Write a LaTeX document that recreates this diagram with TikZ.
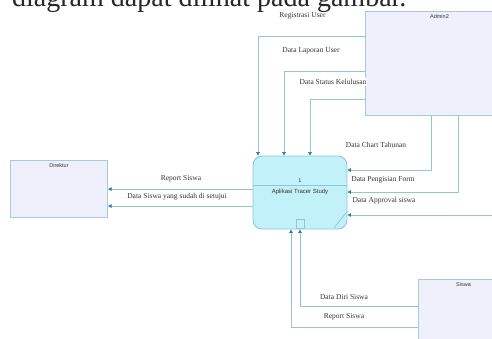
\documentclass[tikz,border=0pt]{standalone}
\usepackage{fontspec}
\setmainfont{Liberation Serif}
\newfontfamily\boxfont{Liberation Sans}
\usetikzlibrary{arrows.meta,calc}
\definecolor{entfill}{HTML}{EFF0FB}
\definecolor{entline}{HTML}{A6CAD6}
\definecolor{procfill}{HTML}{C2F1F9}
\definecolor{procline}{HTML}{8EC8D6}
\definecolor{flowline}{HTML}{95C6CE}
\definecolor{tipcol}{HTML}{2E7DB2}
\definecolor{txt}{HTML}{333333}
\begin{document}
\begin{tikzpicture}[x=1pt,y=-1pt,
  entity/.style={draw=entline,line width=1pt,fill=entfill,rectangle,inner sep=0pt,anchor=north west},
  entlabel/.style={font=\boxfont\fontsize{5.5}{6}\selectfont,text=txt,anchor=north,inner sep=0pt},
  process/.style={draw=procline,line width=0.9pt,fill=procfill,rectangle,rounded corners=9pt,
    minimum width=94pt,minimum height=73pt,inner sep=0pt},
  flow/.style={draw=flowline,line width=0.8pt,
    -{Triangle[length=3.5pt,width=3.6pt,color=tipcol]}},
  lbl/.style={font=\fontsize{7.5}{8.5}\selectfont,text=txt,inner sep=1pt}]
\useasboundingbox (0,0) rectangle (492,338);
\clip (0,0) rectangle (492,338);

% running text of the page above the figure
\node[anchor=base west,font=\fontsize{28}{32}\selectfont,text=black!85,inner sep=0pt]
  (intro) at (12,6.3) {diagram dapat dilihat pada gambar.};

% external entities
\node[entity,minimum width=148pt,minimum height=104pt] (admin) at (365,11) {};
\node[entlabel] (adminl) at ($(admin.north)+(0,3)$) {Admin2};
\node[entity,minimum width=97pt,minimum height=57pt] (dir) at (10,160) {};
\node[entlabel] (dirl) at ($(dir.north)+(0,3)$) {Direktur};
\node[entity,minimum width=90pt,minimum height=80pt] (siswa) at (418,279) {};
\node[entlabel] (siswal) at ($(siswa.north)+(0,3)$) {Siswa};

% process
\node[process] (proc) at (300,192.5) {};
\draw[procline,line width=0.8pt] (proc.west |- 0,185) -- (proc.east |- 0,185);
\node[font=\boxfont\fontsize{5.5}{6}\selectfont,text=txt,inner sep=0pt] (pnum) at (300,181) {1};
\node[font=\boxfont\fontsize{6}{7}\selectfont,text=txt,inner sep=0pt] (pname) at (300,191.5) {Aplikasi Tracer Study};
\node[draw=procline,line width=0.7pt,fill=procfill,minimum width=8pt,minimum height=9pt,
  inner sep=0pt,anchor=south] (psq) at ($(proc.south)+(0,-1)$) {};
\draw[procline,line width=0.7pt] (proc.east |- 0,211) -- (334,228);

% flows from Admin2
\draw[flow] (admin.west |- 0,36) -| (proc.north -| 258,0);
\draw[flow] (admin.west |- 0,71) -| (proc.north -| 284,0);
\draw[flow] (admin.west |- 0,99) -| (proc.north -| 310,0);
\draw[flow] (admin.south -| 431,0) |- (proc.east |- 0,170);
\draw[flow] (admin.south -| 458,0) |- (proc.east |- 0,192);
\coordinate (apv) at (495,215);
\draw[flow] (apv) -- (proc.east |- apv);

% flows to Direktur
\draw[flow] (proc.west |- 0,189) -- (dir.east |- 0,189);
\draw[flow] (proc.west |- 0,206) -- (dir.east |- 0,206);

% flows from Siswa
\draw[flow] (siswa.west |- 0,306) -| (proc.south -| 300,0);
\draw[flow] (siswa.west |- 0,327) -| (proc.south -| 291,0);

% flow labels
\node[lbl] (l1) at (302.5,15.5) {Registrasi User};
\node[lbl] (l2) at (311,51) {Data Laporan User};
\node[lbl,fill=white] (l3) at (333,82) {Data Status Kelulusan};
\node[lbl] (l4) at (376,145) {Data Chart Tahunan};
\node[lbl] (l5) at (383,180) {Data Pengisian Form};
\node[lbl] (l6) at (384,201) {Data Approval siswa};
\node[lbl] (l7) at (181,179) {Report Siswa};
\node[lbl] (l8) at (177,197) {Data Siswa yang sudah di setujui};
\node[lbl] (l9) at (344,297) {Data Diri Siswa};
\node[lbl] (l10) at (344,317) {Report Siswa};
\end{tikzpicture}
\end{document}
